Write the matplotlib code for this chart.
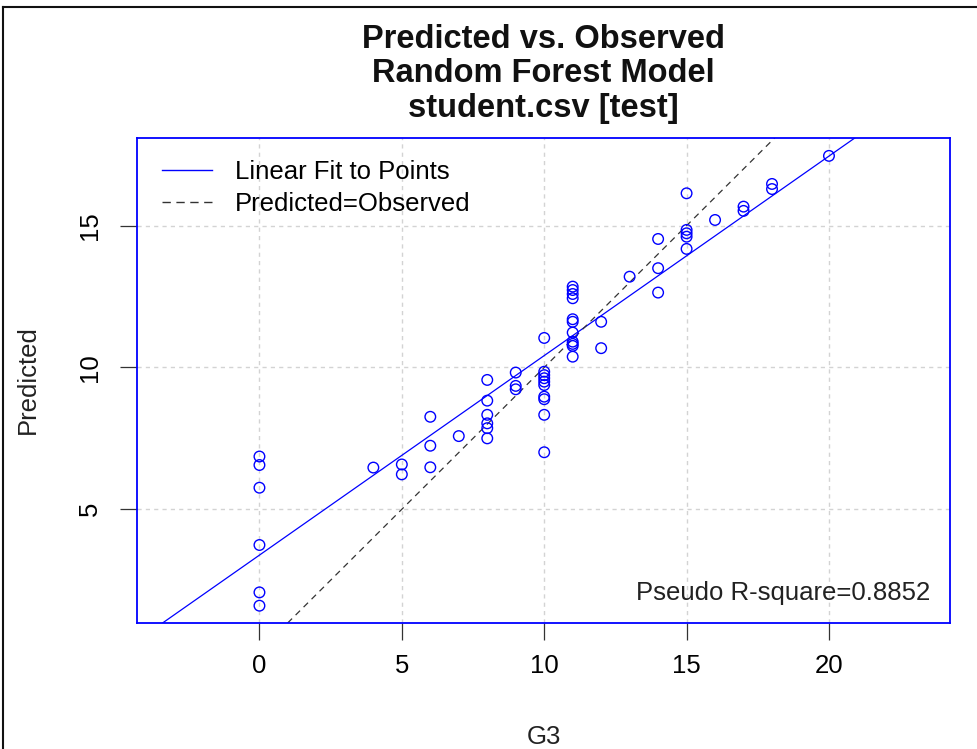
import numpy as np
import matplotlib
matplotlib.use("Agg")
import matplotlib.pyplot as plt
from matplotlib.lines import Line2D

plt.rcParams['font.family'] = ['Liberation Sans', 'DejaVu Sans']

# observed G3 and the model's predictions (test set)
observed = [0, 0, 0, 0, 0, 0,
            4,
            5, 5,
            6, 6, 6,
            7,
            8, 8, 8, 8, 8, 8,
            9, 9, 9,
            10, 10, 10, 10, 10, 10, 10, 10, 10, 10,
            11, 11, 11, 11, 11, 11, 11, 11, 11, 11, 11,
            12, 12,
            13,
            14, 14, 14,
            15, 15, 15, 15, 15,
            16,
            17, 17,
            18, 18,
            20]
predicted = [6.86, 6.56, 5.76, 3.74, 2.07, 1.60,
             6.47,
             6.58, 6.23,
             8.26, 7.24, 6.48,
             7.58,
             9.56, 8.83, 8.33, 8.03, 7.86, 7.50,
             9.82, 9.35, 9.23,
             11.04, 9.85, 9.73, 9.62, 9.50, 9.38, 8.97, 8.88, 8.33, 7.01,
             12.85, 12.73, 12.59, 12.44, 11.70, 11.61, 11.23, 10.91, 10.83, 10.76, 10.38,
             11.61, 10.68,
             13.20,
             14.53, 13.50, 12.64,
             16.14, 14.85, 14.73, 14.61, 14.18,
             15.20,
             15.67, 15.52,
             16.47, 16.29,
             17.46]
x_ticks = [0, 5, 10, 15, 20]
y_ticks = [5, 10, 15]
r_square = 0.8852

x = np.array(observed, dtype=float)
y = np.array(predicted, dtype=float)
slope, intercept = np.polyfit(x, y, 1)

fig = plt.figure(figsize=(9.77, 7.49), dpi=100)
ax = fig.add_axes([137 / 977, 1 - 623 / 749, (950 - 137) / 977, (623 - 138) / 749])

ax.set_xlim(-4.3, 24.25)
ax.set_ylim(0.99, 18.09)

for v in x_ticks:
    ax.axvline(v, color='#d3d3d3', lw=1, ls=(0, (3, 3)), zorder=0)
for v in y_ticks:
    ax.axhline(v, color='#d3d3d3', lw=1, ls=(0, (3, 3)), zorder=0)

ax.scatter(x, y, s=58, facecolors='none', edgecolors='#0000ff', linewidths=1.0, zorder=3)
ax.axline((0, intercept), slope=slope, color='#0000ff', lw=0.9, zorder=2)
ax.axline((0, 0), slope=1, color='#333333', lw=0.9, ls=(0, (5, 4)), zorder=2)

ax.set_xticks(x_ticks)
ax.set_yticks(y_ticks)
ax.tick_params(axis='both', direction='out', length=12, width=0.9, color='#333333',
               labelsize=18.5)
ax.tick_params(axis='x', pad=10)
ax.tick_params(axis='y', pad=13)
for lab in ax.get_yticklabels():
    lab.set_rotation(90)
    lab.set_va('center')

for sp in ax.spines.values():
    sp.set_color('#0000ff')
    sp.set_linewidth(1.3)

handles = [Line2D([], [], color='#0000ff', lw=1),
           Line2D([], [], color='#333333', lw=1, ls=(0, (6, 4)))]
ax.legend(handles, ['Linear Fit to Points', 'Predicted=Observed'], loc='upper left',
          frameon=False, fontsize=18.5, handlelength=1.95, handletextpad=0.9,
          labelspacing=0.33, borderaxespad=0.57, bbox_to_anchor=(0.0, 1.006))

ax.text(0.976, 0.062, f'Pseudo R-square={r_square:.4f}', transform=ax.transAxes,
        ha='right', va='center', fontsize=18.5, color='#222222')

cx = (137 + 950) / 2 / 977
for txt, ypix in [('Predicted vs. Observed', 40), ('Random Forest Model', 74),
                  ('student.csv [test]', 108)]:
    fig.text(cx, 1 - ypix / 749, txt, ha='center', va='center', fontsize=23.5,
             fontweight='bold', color='#111111')

fig.text(cx, 1 - 737 / 749, 'G3', ha='center', va='center', fontsize=18.5, color='#222222')
fig.text(28 / 977, 1 - 380 / 749, 'Predicted', ha='center', va='center', rotation=90,
         fontsize=18.5, color='#222222')

# screenshot frame
fig.add_artist(Line2D([3 / 977, 3 / 977], [0, 1 - 7 / 749], color='#111111', lw=1.5))
fig.add_artist(Line2D([3 / 977, 1], [1 - 7 / 749, 1 - 7 / 749], color='#111111', lw=1.5))

fig.savefig('out.png', dpi=100)
